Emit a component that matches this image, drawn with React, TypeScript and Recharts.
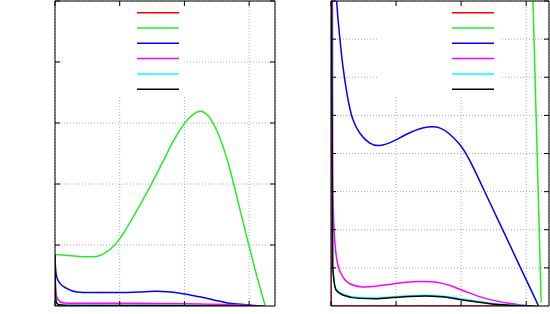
import React from 'react';
import { LineChart, Line, XAxis, YAxis, CartesianGrid, Legend } from 'recharts';

const xTicks = [0, 1, 2, 3];
const leftYTicks = [0, 1, 2, 3, 4, 5];
const rightYTicks = [0, 1, 2, 3, 4, 5, 6, 7, 8];
const seriesNames = ['s1', 's2', 's3', 's4', 's5', 's6'];
const seriesColors = ['#ff0000', '#22ee22', '#0000ff', '#ff00ff', '#00ffff', '#000000'];

// Left panel
const leftRedX = [0, 3.25];
const leftRedY = [0, 0];
const leftGreenX = [0, 0.3, 0.59, 0.7, 0.85, 1.0, 1.21, 1.47, 1.7, 1.83, 2.01, 2.14, 2.27, 2.4, 2.55, 2.7, 2.86, 2.99, 3.12, 3.25];
const leftGreenY = [0.845, 0.82, 0.8, 0.82, 0.915, 1.08, 1.46, 1.95, 2.43, 2.72, 3.02, 3.16, 3.22, 3.1, 2.78, 2.28, 1.57, 1.02, 0.48, 0];
const leftBlueX = [0, 0.01, 0.026, 0.077, 0.18, 0.34, 0.54, 0.95, 1.3, 1.57, 1.93, 2.24, 2.65, 2.95, 3.15];
const leftBlueY = [0.8, 0.6, 0.48, 0.37, 0.29, 0.23, 0.22, 0.22, 0.23, 0.24, 0.21, 0.15, 0.055, 0.02, 0];
const leftMagentaX = [0, 0.01, 0.026, 0.077, 0.15, 0.3, 1.0, 2.0, 2.8, 3.2];
const leftMagentaY = [0.7, 0.3, 0.15, 0.07, 0.05, 0.045, 0.045, 0.035, 0.02, 0];
const leftCyanX = [0, 0.005, 0.02, 0.06, 0.2, 1.5, 3.2];
const leftCyanY = [0.85, 0.32, 0.07, 0.025, 0.015, 0.012, 0];
const leftBlackX = [0, 0.005, 0.02, 0.06, 0.2, 1.5, 3.2];
const leftBlackY = [0.85, 0.3, 0.06, 0.02, 0.01, 0.01, 0];

// Right panel
const rightRedX = [0, 0, 3.2];
const rightRedY = [20, 0, 0];
const rightGreenX = [3.08, 3.23];
const rightGreenY = [9.5, 0.1];
const rightBlueX = [0.04, 0.077, 0.13, 0.18, 0.26, 0.33, 0.44, 0.59, 0.74, 0.95, 1.2, 1.51, 1.69, 1.8, 1.98, 2.11, 2.37, 2.63, 2.88, 3.19];
const rightBlueY = [10, 8, 7.13, 6.26, 5.39, 4.86, 4.51, 4.25, 4.18, 4.3, 4.56, 4.73, 4.68, 4.55, 4.26, 3.92, 2.97, 2.03, 1.12, 0];
const rightMagentaX = [0, 0.026, 0.05, 0.1, 0.18, 0.28, 0.49, 0.69, 0.95, 1.15, 1.36, 1.55, 1.7, 1.86, 2.11, 2.37, 2.73, 3.05];
const rightMagentaY = [40, 3.2, 1.9, 1.12, 0.77, 0.59, 0.5, 0.52, 0.58, 0.62, 0.64, 0.635, 0.6, 0.52, 0.35, 0.2, 0.07, 0];
const rightCyanX = [0, 0.026, 0.077, 0.18, 0.44, 0.69, 0.95, 1.2, 1.46, 1.69, 2.11, 2.63, 3.1];
const rightCyanY = [12, 1.08, 0.45, 0.31, 0.22, 0.21, 0.24, 0.27, 0.28, 0.26, 0.16, 0.04, 0];
const rightBlackX = [0, 0.026, 0.077, 0.18, 0.44, 0.69, 0.95, 1.2, 1.46, 1.69, 2.11, 2.63, 3.1];
const rightBlackY = [12, 1.03, 0.42, 0.29, 0.2, 0.19, 0.22, 0.25, 0.26, 0.24, 0.14, 0.03, 0];

const leftCurves = ['linear', 'basis', 'monotone', 'monotone', 'monotone', 'monotone'];
const rightCurves = ['linear', 'linear', 'basis', 'monotone', 'monotone', 'monotone'];

const zip = (xs: number[], ys: number[]) => xs.map((x, i) => ({ x, y: ys[i] }));

const leftSeries = [
  zip(leftRedX, leftRedY),
  zip(leftGreenX, leftGreenY),
  zip(leftBlueX, leftBlueY),
  zip(leftMagentaX, leftMagentaY),
  zip(leftCyanX, leftCyanY),
  zip(leftBlackX, leftBlackY),
];
const rightSeries = [
  zip(rightRedX, rightRedY),
  zip(rightGreenX, rightGreenY),
  zip(rightBlueX, rightBlueY),
  zip(rightMagentaX, rightMagentaY),
  zip(rightCyanX, rightCyanY),
  zip(rightBlackX, rightBlackY),
];

const NoLabel = () => <g />;

const KeyBox = (props: any) => {
  const payload: any[] = props.payload || [];
  return (
    <div style={{ width: 123, height: 91, background: '#ffffff' }}>
      <svg width={123} height={91} style={{ display: 'block' }}>
        {payload.map((p, i) => (
          <line
            key={i}
            x1={73}
            x2={115}
            y1={6.7 + 15.3 * i}
            y2={6.7 + 15.3 * i}
            stroke={p.color}
            strokeWidth={1.5}
          />
        ))}
      </svg>
    </div>
  );
};

type PanelProps = {
  width: number;
  margin: { top: number; right: number; bottom: number; left: number };
  xMax: number;
  yMax: number;
  yTicks: number[];
  series: { x: number; y: number }[][];
  curves: string[];
  keyLeft: number;
};

const Panel = ({ width, margin, xMax, yMax, yTicks, series, curves, keyLeft }: PanelProps) => (
  <LineChart width={width} height={314} margin={margin}>
    <CartesianGrid stroke="#a8a8a8" strokeDasharray="1 2" />
    <XAxis
      dataKey="x"
      type="number"
      domain={[0, xMax]}
      ticks={xTicks}
      allowDataOverflow
      mirror
      tick={NoLabel}
      tickSize={5}
      stroke="#000"
    />
    <XAxis
      xAxisId="top"
      orientation="top"
      dataKey="x"
      type="number"
      domain={[0, xMax]}
      ticks={xTicks}
      allowDataOverflow
      mirror
      tick={NoLabel}
      tickSize={5}
      stroke="#000"
    />
    <YAxis
      type="number"
      domain={[0, yMax]}
      ticks={yTicks}
      allowDataOverflow
      mirror
      tick={NoLabel}
      tickSize={5}
      stroke="#000"
    />
    <YAxis
      yAxisId="right"
      orientation="right"
      type="number"
      domain={[0, yMax]}
      ticks={yTicks}
      allowDataOverflow
      mirror
      tick={NoLabel}
      tickSize={5}
      stroke="#000"
    />
    {series.map((d, i) => (
      <Line
        key={i}
        data={d}
        dataKey="y"
        name={seriesNames[i]}
        type={curves[i] as any}
        stroke={seriesColors[i]}
        strokeWidth={1.5}
        dot={false}
        activeDot={false}
        isAnimationActive={false}
      />
    ))}
    <Legend
      layout="horizontal"
      verticalAlign="middle"
      align="center"
      content={KeyBox}
      wrapperStyle={{ left: keyLeft, top: 6, width: 123, height: 91 }}
    />
  </LineChart>
);

export default function App() {
  return (
    <div style={{ position: 'absolute', left: 0, top: 0, width: 550, height: 314, background: '#fff' }}>
      <div style={{ position: 'absolute', left: 0, top: 0 }}>
        <Panel
          width={280}
          margin={{ top: 1, right: 5, bottom: 8, left: 55 }}
          xMax={3.4}
          yMax={5}
          yTicks={leftYTicks}
          series={leftSeries}
          curves={leftCurves}
          keyLeft={64}
        />
      </div>
      <div style={{ position: 'absolute', left: 280, top: 0 }}>
        <Panel
          width={270}
          margin={{ top: 1, right: 1, bottom: 8, left: 51 }}
          xMax={3.35}
          yMax={8}
          yTicks={rightYTicks}
          series={rightSeries}
          curves={rightCurves}
          keyLeft={99}
        />
      </div>
    </div>
  );
}
